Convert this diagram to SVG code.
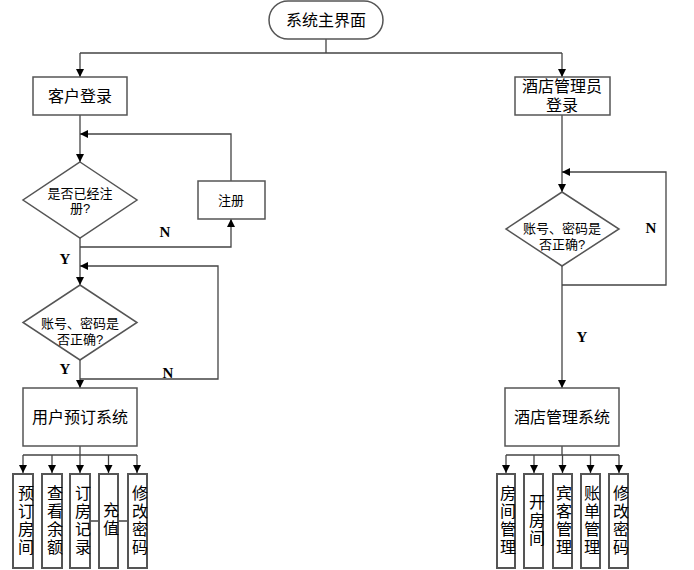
<svg xmlns="http://www.w3.org/2000/svg" width="694" height="570" viewBox="0 0 694 570">
<defs>
<marker id="ah" markerUnits="userSpaceOnUse" markerWidth="9" markerHeight="9" refX="8" refY="4" orient="auto">
<path d="M0,0 L8,4 L0,8 z" fill="#000"/>
</marker>
<style>
.bx{fill:#fff;stroke:#555;stroke-width:1.5}
.sb{fill:#fff;stroke:#555;stroke-width:2}
.t{font-family:"Liberation Sans","Noto Sans CJK SC",sans-serif;font-size:16px;fill:#000;text-anchor:middle;dominant-baseline:central}
.s{font-size:13px}
.v{font-family:"Noto Sans CJK SC","Liberation Sans",sans-serif;font-size:16px;fill:#000;text-anchor:middle;writing-mode:vertical-rl;letter-spacing:2px}
.yn{font-family:"Liberation Serif",serif;font-weight:bold;font-size:15px;fill:#000;text-anchor:middle;dominant-baseline:central}
.c{fill:none;stroke:#444;stroke-width:1.3}
.ca{fill:none;stroke:#444;stroke-width:1.3;marker-end:url(#ah)}
</style>
</defs>
<rect width="694" height="570" fill="#fff"/>
<g id="connectors">
<path class="c" d="M326,39 V53 M80,53 H562"/>
<path class="ca" d="M80,53 V77"/>
<path class="ca" d="M562,53 V77"/>
<path class="ca" d="M80,115 V162"/>
<path class="ca" d="M231,181 V134 H80"/>
<path class="ca" d="M80,247 H231 V219"/>
<path class="ca" d="M80,238 V285"/>
<path class="ca" d="M80,379 H218 V266 H80"/>
<path class="ca" d="M80,360 V388"/>
<path class="c" d="M80,446 V455 M23,455 H137"/>
<path class="ca" d="M23,455 V473"/>
<path class="ca" d="M52,455 V473"/>
<path class="ca" d="M80,455 V473"/>
<path class="ca" d="M108.5,455 V473"/>
<path class="ca" d="M137,455 V473"/>
<path class="c" d="M90,521 H99 M118,521 H128"/>
<path class="ca" d="M562,115 V192"/>
<path class="ca" d="M562,285 H666 V172 H562"/>
<path class="ca" d="M562,266 V388"/>
<path class="c" d="M562,446 V455 M506,455 H619"/>
<path class="ca" d="M506,455 V473"/>
<path class="ca" d="M534,455 V473"/>
<path class="ca" d="M562.5,455 V473"/>
<path class="ca" d="M590.5,455 V473"/>
<path class="ca" d="M619,455 V473"/>
<text class="yn" x="165" y="232">N</text>
<text class="yn" x="65" y="259">Y</text>
<text class="yn" x="65" y="369">Y</text>
<text class="yn" x="168" y="373">N</text>
<text class="yn" x="651" y="228">N</text>
<text class="yn" x="582" y="337">Y</text>
</g>
<g id="start">
<rect class="bx" x="269" y="1" width="114" height="38" rx="19" ry="19"/>
<text class="t" x="326" y="20">系统主界面</text>
</g>
<g id="customer-login">
<rect class="bx" x="33" y="77" width="94" height="38"/>
<text class="t" x="80" y="96">客户登录</text>
</g>
<g id="admin-login">
<rect class="bx" x="515" y="77" width="95" height="38"/>
<text class="t"><tspan x="562" y="86">酒店管理员</tspan><tspan x="562" y="105">登录</tspan></text>
</g>
<g id="registered">
<polygon class="bx" points="80,162 137,200 80,238 23,200"/>
<text class="t s"><tspan x="80" y="192.5">是否已经注</tspan><tspan x="80" y="208">册?</tspan></text>
</g>
<g id="register">
<rect class="bx" x="198" y="181" width="67" height="38"/>
<text class="t s" x="231" y="200">注册</text>
</g>
<g id="pwd-left">
<polygon class="bx" points="80,285 137,322.5 80,360 23,322.5"/>
<text class="t s"><tspan x="80" y="323">账号、密码是</tspan><tspan x="80" y="339">否正确?</tspan></text>
</g>
<g id="pwd-right">
<polygon class="bx" points="562,192 619,229 562,266 506,229"/>
<text class="t s"><tspan x="562" y="228">账号、密码是</tspan><tspan x="562" y="244">否正确?</tspan></text>
</g>
<g id="user-system">
<rect class="bx" x="23" y="388" width="114" height="58"/>
<text class="t" x="80" y="417">用户预订系统</text>
</g>
<g id="hotel-system">
<rect class="bx" x="505" y="388" width="114" height="58"/>
<text class="t" x="562" y="417">酒店管理系统</text>
</g>
<g id="u1"><rect class="sb" x="13" y="474" width="20" height="94"/>
<text class="v" x="26" y="521">预订房间</text></g>
<g id="u2"><rect class="sb" x="42" y="474" width="20" height="94"/>
<text class="v" x="55" y="521">查看余额</text></g>
<g id="u3"><rect class="sb" x="70" y="474" width="20" height="94"/>
<text class="v" x="83" y="521">订房记录</text></g>
<g id="u4"><rect class="sb" x="99" y="474" width="19" height="94"/>
<text class="v" x="111" y="520">充值</text></g>
<g id="u5"><rect class="sb" x="128" y="474" width="19" height="94"/>
<text class="v" x="140" y="521">修改密码</text></g>
<g id="h1"><rect class="sb" x="497" y="474" width="18" height="94"/>
<text class="v" x="508" y="521">房间管理</text></g>
<g id="h2"><rect class="sb" x="524" y="474" width="19" height="94"/>
<text class="v" x="537" y="521">开房间</text></g>
<g id="h3"><rect class="sb" x="553" y="474" width="19" height="94"/>
<text class="v" x="564" y="521">宾客管理</text></g>
<g id="h4"><rect class="sb" x="581" y="474" width="19" height="94"/>
<text class="v" x="592" y="521">账单管理</text></g>
<g id="h5"><rect class="sb" x="609" y="474" width="19" height="94"/>
<text class="v" x="621" y="521">修改密码</text></g>
</svg>
